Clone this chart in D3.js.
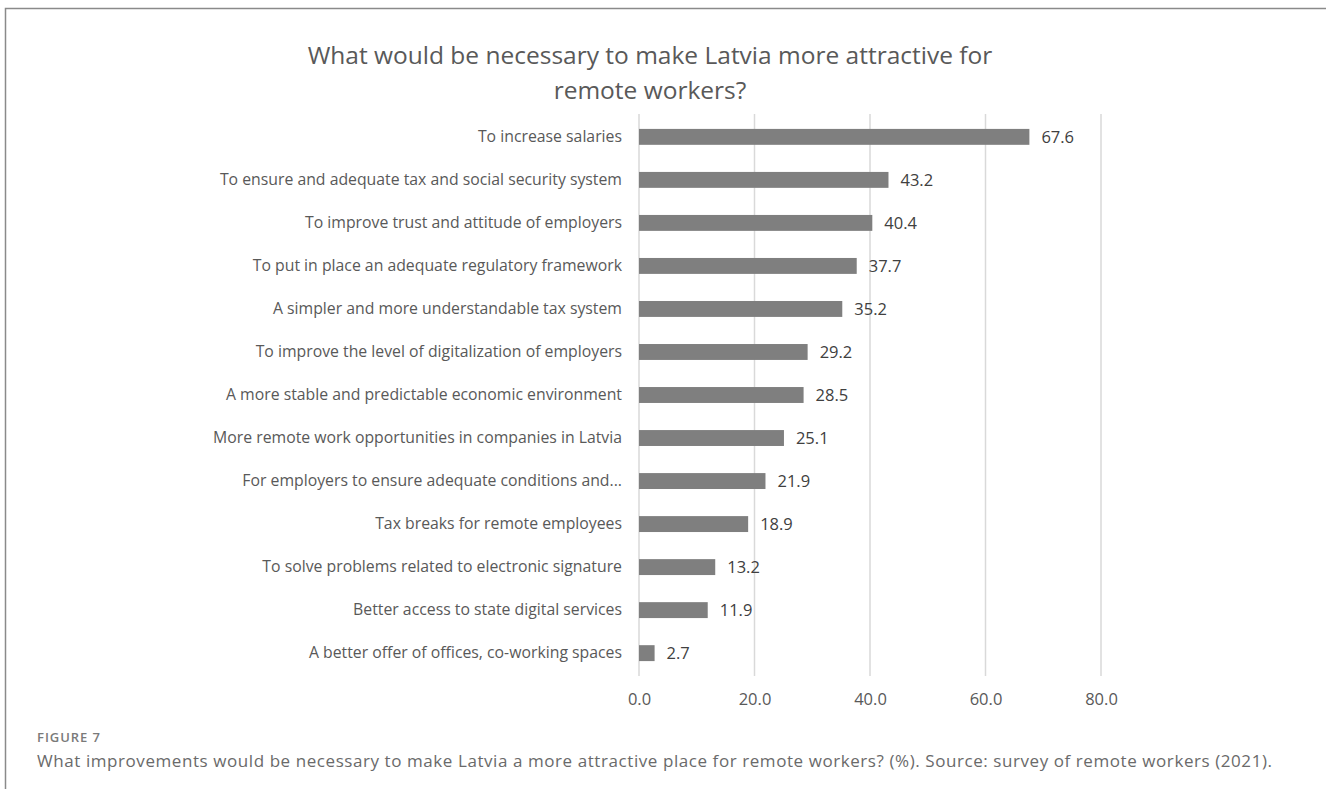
<!DOCTYPE html>
<html>
<head>
<meta charset="utf-8">
<script src="https://cdn.jsdelivr.net/npm/d3@7"></script>
<style>
  html, body { margin: 0; background: #fff; }
  svg { display: block; }
</style>
</head>
<body>
<script>
const categories = [
    "To increase salaries",
    "To ensure and adequate tax and social security system",
    "To improve trust and attitude of employers",
    "To put in place an adequate regulatory framework",
    "A simpler and more understandable tax system",
    "To improve the level of digitalization of employers",
    "A more stable and predictable economic environment",
    "More remote work opportunities in companies in Latvia",
    "For employers to ensure adequate conditions and...",
    "Tax breaks for remote employees",
    "To solve problems related to electronic signature",
    "Better access to state digital services",
    "A better offer of offices, co-working spaces"
];
const values = [67.6, 43.2, 40.4, 37.7, 35.2, 29.2, 28.5, 25.1, 21.9, 18.9, 13.2, 11.9, 2.7];
const ticks = [0, 20, 40, 60, 80];
const titleLines = ["What would be necessary to make Latvia more attractive for", "remote workers?"];
const captionHead = "FIGURE 7";
const captionText = "What improvements would be necessary to make Latvia a more attractive place for remote workers? (%). Source: survey of remote workers (2021).";

const width = 1326;
const height = 789;
const margin = {top : 114 , left : 639 , right : 225 , bottom : 113};
const innerWidth = width - margin.left - margin.right;
const innerHeight = height - margin.top - margin.bottom;

const xScale = d3.scaleLinear()
                    .domain([0 , 80])
                    .range([0 , innerWidth]);
const yScale = d3.scaleBand()
                    .domain(categories)
                    .range([2 , innerHeight - 2])
                    .paddingInner(0.63)
                    .paddingOuter(0.3);

const svg = d3.select("body")
                .append("svg")
                    .attr("width" , width)
                    .attr("height" , height)
                    .attr("viewBox" , `0 0 ${width} ${height}`);

// frame lines (left + top only)
svg.append("path")
    .attr("d" , `M5.5,${height} V8.5 H${width}`)
    .attr("fill" , "none")
    .attr("stroke" , "#8a8a8a")
    .attr("stroke-width" , 1.5);

svg.selectAll(".title")
    .data(titleLines)
    .enter()
        .append("text")
            .attr("class" , "title")
            .text(d=>d)
            .attr("x" , 650)
            .attr("y" , (d, i)=>64 + i * 35)
            .attr("text-anchor" , "middle")
            .attr("font-family" , "Open Sans, sans-serif")
            .attr("font-size" , 24.5)
            .attr("fill" , "#595959");

const group = svg.append("g")
                    .attr("transform" , `translate(${margin.left} , ${margin.top})`);

// gridlines
group.selectAll(".grid")
    .data(ticks)
    .enter()
        .append("line")
            .attr("x1" , d=>xScale(d))
            .attr("x2" , d=>xScale(d))
            .attr("y1" , 0)
            .attr("y2" , innerHeight)
            .attr("stroke" , "#d9d9d9")
            .attr("stroke-width" , 1.5);

const xAxis = group.append("g")
                .attr("transform" , `translate(0 , ${innerHeight + 17})`)
                .call(d3.axisBottom(xScale).tickValues(ticks).tickFormat(d3.format(".1f")).tickSize(0).tickPadding(0));
xAxis.select(".domain").remove();
xAxis.selectAll("text")
    .attr("dy" , "0.71em")
    .attr("font-family" , "Open Sans, sans-serif")
    .attr("font-size" , 16.5)
    .attr("fill" , "#595959");

const yAxis = group.append("g")
                .attr("transform" , "translate(-17 , 0)")
                .call(d3.axisLeft(yScale).tickSize(0).tickPadding(0));
yAxis.select(".domain").remove();
yAxis.selectAll("text")
    .attr("font-family" , "Open Sans, sans-serif")
    .attr("font-size" , 15.8)
    .attr("fill" , "#595959");

group.selectAll("rect")
    .data(values)
    .enter()
        .append("rect")
            .attr("x" , xScale(0))
            .attr("y" , (d, i)=>yScale(categories[i]))
            .attr("width" , d=>xScale(d) - xScale(0))
            .attr("height" , yScale.bandwidth())
            .attr("fill" , "#7f7f7f");

group.selectAll(".val")
    .data(values)
    .enter()
        .append("text")
            .attr("class" , "val")
            .text(d=>d.toFixed(1))
            .attr("x" , d=>xScale(d) + 12)
            .attr("y" , (d, i)=>yScale(categories[i]) + yScale.bandwidth() / 2)
            .attr("dy" , "0.36em")
            .attr("font-family" , "Open Sans, sans-serif")
            .attr("font-size" , 16.5)
            .attr("fill" , "#404040");

svg.append("text")
    .text(captionHead)
    .attr("x" , 37)
    .attr("y" , 742)
    .attr("textLength" , 63)
    .attr("lengthAdjust" , "spacing")
    .attr("font-family" , "Open Sans, sans-serif")
    .attr("font-size" , 13)
    .attr("font-weight" , 600)
    .attr("fill" , "#7a7a7a");

svg.append("text")
    .text(captionText)
    .attr("x" , 37)
    .attr("y" , 767)
    .attr("textLength" , 1235)
    .attr("lengthAdjust" , "spacing")
    .attr("font-family" , "Open Sans, sans-serif")
    .attr("font-size" , 17)
    .attr("fill" , "#6a6a6a");
</script>
</body>
</html>
